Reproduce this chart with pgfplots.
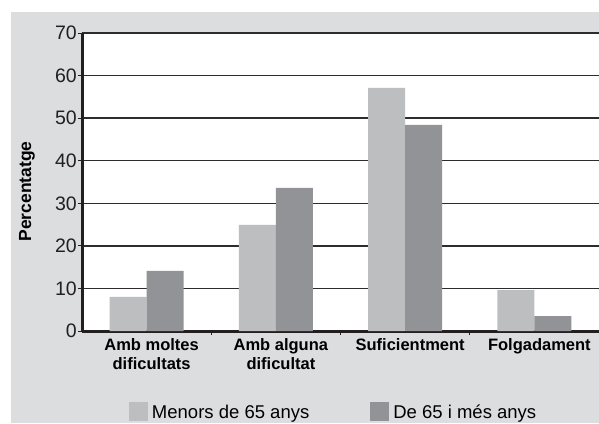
\documentclass[border=0pt]{standalone}
\usepackage{pgfplots}
\pgfplotsset{compat=1.18}
\usepackage{fontspec}
\setmainfont{Liberation Sans}
\definecolor{bg}{HTML}{DCDDDF}
\definecolor{lightbar}{HTML}{BDBEC0}
\definecolor{darkbar}{HTML}{929396}
\definecolor{axisc}{HTML}{231F20}
\definecolor{gridc}{HTML}{2E2B2C}
\begin{document}
\begin{tikzpicture}[x=1pt,y=1pt]
\useasboundingbox (0,0) rectangle (599,423);
\fill[white] (0,0) rectangle (599,423);
\fill[bg] (11,0) rectangle (599,411);
\begin{axis}[
  at={(82pt,92pt)}, anchor=south west,
  scale only axis, width=517pt, height=298pt,
  xmin=-0.5, xmax=3.5, ymin=0, ymax=70,
  axis x line*=bottom, axis y line*=left,
  axis line style={line width=3pt, draw=axisc},
  axis background/.style={fill=white},
  ymajorgrids, grid style={line width=1.4pt, draw=gridc},
  ytick={0,10,...,70},
  tick align=outside, major tick length=4pt,
  ytick style={line width=1pt, draw=axisc},
  xtick={0,1,2,3}, xtick style={draw=none},
  xticklabels={{Amb moltes\\dificultats},{Amb alguna\\dificultat},{Suficientment},{Folgadament}},
  extra x ticks={0.5,1.5,2.5,3.5}, extra x tick labels={},
  extra x tick style={xtick style={draw=axisc, line width=1pt}, grid=none},
  /pgf/number format/assume math mode=true,
  yticklabel style={font=\fontsize{19.5}{21}\selectfont, inner sep=1pt, text=axisc},
  xticklabel style={align=center, font=\bfseries\fontsize{16.5}{19}\selectfont, xshift=5pt, text=black},
  every axis y label/.style={at={(axis description cs:-0.1064,0.468)}, rotate=90, anchor=center, font=\bfseries\fontsize{17.5}{19}\selectfont},
  ylabel={Percentatge},
  ybar=0pt, bar width=37pt,
  legend columns=2,
  legend style={at={(axis description cs:0.0909,-0.27)}, anchor=west, draw=none, fill=none, inner sep=0pt, outer sep=0pt,
    font=\fontsize{18.5}{22}\selectfont, legend cell align=left,
    /tikz/every even column/.append style={column sep=61pt},
    nodes={inner sep=0pt, text depth=0pt}},
]
\addplot[fill=lightbar, draw=none, legend image code/.code={\fill[lightbar] (0pt,-9.3pt) rectangle (18.7pt,9.3pt); \path (23pt,0pt);}]
  coordinates {(0,8.0) (1,24.9) (2,57.1) (3,9.6)};
\addplot[fill=darkbar, draw=none, legend image code/.code={\fill[darkbar] (0pt,-9.3pt) rectangle (18.7pt,9.3pt); \path (23pt,0pt);}]
  coordinates {(0,14.1) (1,33.6) (2,48.4) (3,3.5)};
\legend{Menors de 65 anys, De 65 i més anys}
\end{axis}
\end{tikzpicture}
\end{document}
